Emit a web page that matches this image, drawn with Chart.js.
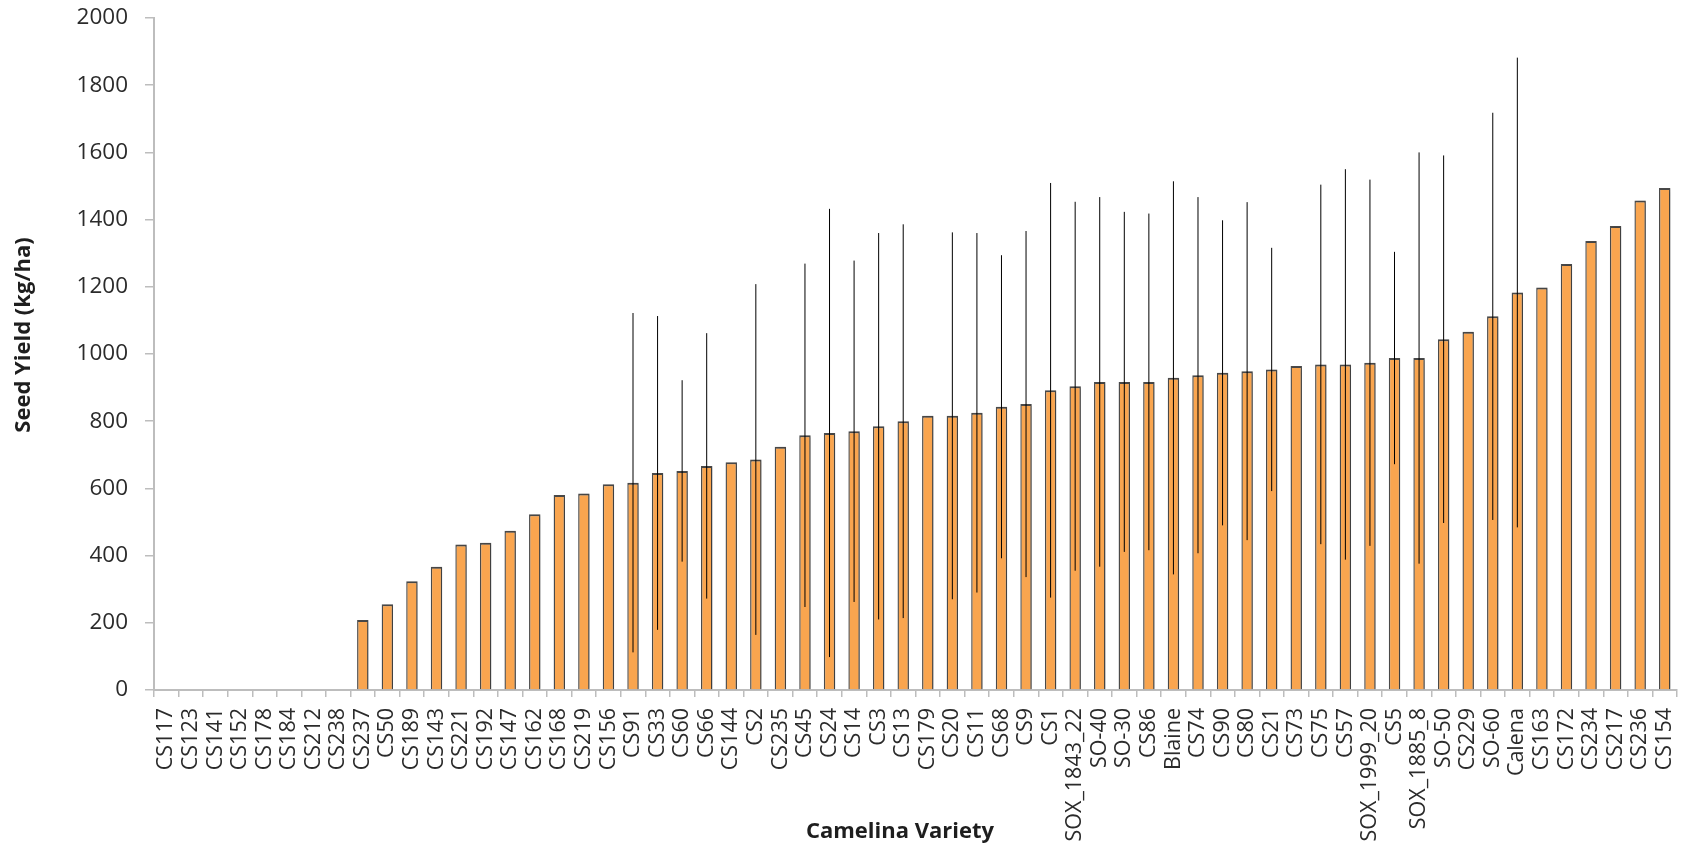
<!DOCTYPE html>
<html>
<head>
<meta charset="utf-8">
<title>Camelina seed yield by variety</title>
<script src="https://cdn.jsdelivr.net/npm/chart.js@4.4.1/dist/chart.umd.min.js"></script>
<style>
  html, body { margin: 0; padding: 0; background: #ffffff; }
  canvas { display: block; }
</style>
</head>
<body>
<canvas id="yieldChart" width="1682" height="848"></canvas>
<script>
// Camelina varieties, ordered by mean seed yield
const varieties = [
  'CS117', 'CS123', 'CS141', 'CS152', 'CS178', 'CS184', 'CS212', 'CS238',
  'CS237', 'CS50', 'CS189', 'CS143', 'CS221', 'CS192', 'CS147', 'CS162',
  'CS168', 'CS219', 'CS156', 'CS91', 'CS33', 'CS60', 'CS66', 'CS144',
  'CS2', 'CS235', 'CS45', 'CS24', 'CS14', 'CS3', 'CS13', 'CS179',
  'CS20', 'CS11', 'CS68', 'CS9', 'CS1', 'SOX_1843_22', 'SO-40', 'SO-30',
  'CS86', 'Blaine', 'CS74', 'CS90', 'CS80', 'CS21', 'CS73', 'CS75',
  'CS57', 'SOX_1999_20', 'CS5', 'SOX_1885_8', 'SO-50', 'CS229', 'SO-60', 'Calena',
  'CS163', 'CS172', 'CS234', 'CS217', 'CS236', 'CS154'
];

// Mean seed yield (kg/ha)
const seedYield = [
  0, 0, 0, 0, 0, 0, 0, 0,
  208, 255, 324, 367, 433, 438, 474, 523,
  580, 585, 612, 617, 646, 652, 667, 678,
  686, 724, 758, 765, 770, 785, 800, 816,
  816, 825, 843, 851, 892, 904, 917, 917,
  917, 929, 937, 944, 949, 954, 964, 969,
  969, 974, 988, 988, 1044, 1066, 1112, 1183,
  1198, 1268, 1336, 1381, 1457, 1494
];

// Error margin (+/- kg/ha); null where the variety has no error bar
const yieldError = [
  null, null, null, null, null, null, null, null,
  null, null, null, null, null, null, null, null,
  null, null, null, 505, 467, 270, 395, null,
  522, null, 511, 667, 508, 575, 586, null,
  546, 535, 451, 515, 617, 549, 550, 506,
  501, 585, 530, 454, 503, 362, null, 535,
  581, 545, 316, 612, 547, null, 606, 699,
  null, null, null, null, null, null
];

// Value axis tick labels
const yTicks = [0, 200, 400, 600, 800, 1000, 1200, 1400, 1600, 1800, 2000];

const AXIS_GREY = '#bdbdbd';
const LABEL_FONT = { family: '"Open Sans", "DejaVu Sans", sans-serif', size: 21.5 };

// Soft drop shadow under the bars, then the error bars on top of them
const barDecorations = {
  id: 'barDecorations',
  beforeDatasetsDraw(chart) {
    const ctx = chart.ctx;
    ctx.save();
    ctx.shadowColor = 'rgba(0, 0, 0, 0.28)';
    ctx.shadowBlur = 3;
    ctx.shadowOffsetX = 1.5;
    ctx.shadowOffsetY = 0.5;
  },
  afterDatasetsDraw(chart) {
    const ctx = chart.ctx;
    ctx.restore();
    const meta = chart.getDatasetMeta(0);
    const yScale = chart.scales.y;
    ctx.save();
    ctx.strokeStyle = '#000000';
    ctx.lineWidth = 1;
    meta.data.forEach((bar, i) => {
      const err = yieldError[i];
      if (err === null || err === undefined) return;
      const v = seedYield[i];
      ctx.beginPath();
      ctx.moveTo(bar.x, yScale.getPixelForValue(v + err));
      ctx.lineTo(bar.x, yScale.getPixelForValue(Math.max(v - err, 0)));
      ctx.stroke();
    });
    ctx.restore();
  }
};

// Axis titles
const axisTitles = {
  id: 'axisTitles',
  afterDraw(chart) {
    const ctx = chart.ctx;
    ctx.save();
    ctx.fillStyle = '#1e1e1e';
    ctx.font = 'bold 22px "Open Sans", "DejaVu Sans", sans-serif';
    ctx.textAlign = 'center';
    ctx.textBaseline = 'middle';
    ctx.save();
    ctx.translate(24, 335);
    ctx.rotate(-Math.PI / 2);
    ctx.fillText('Seed Yield (kg/ha)', 0, 0);
    ctx.restore();
    ctx.fillText('Camelina Variety', 900, 832);
    ctx.restore();
  }
};

new Chart(document.getElementById('yieldChart'), {
  type: 'bar',
  data: {
    labels: varieties,
    datasets: [{
      data: seedYield,
      backgroundColor: '#F9A54F',
      borderColor: 'rgba(45, 45, 45, 0.85)',
      borderWidth: (c) => (c.raw > 0 ? { top: 2, left: 1.4, right: 1.4, bottom: 0 } : 0),
      borderSkipped: 'bottom',
      categoryPercentage: 1,
      barPercentage: 0.465
    }]
  },
  options: {
    responsive: false,
    animation: false,
    devicePixelRatio: 1,
    layout: { padding: { top: 18, right: 5, bottom: 0, left: 0 } },
    plugins: {
      legend: { display: false },
      tooltip: { enabled: false },
      title: { display: false }
    },
    scales: {
      x: {
        grid: {
          offset: true,
          drawOnChartArea: false,
          drawTicks: true,
          tickLength: 7,
          color: AXIS_GREY,
          lineWidth: 1.5
        },
        border: { display: true, color: AXIS_GREY, width: 2 },
        ticks: {
          autoSkip: false,
          maxRotation: 90,
          minRotation: 90,
          padding: 11,
          color: '#2b2b2b',
          font: LABEL_FONT
        },
        afterFit(scale) {
          scale.height = 158;
          scale.paddingLeft = 0;
          scale.paddingRight = 0;
        }
      },
      y: {
        min: 0,
        max: 2000,
        grid: {
          drawOnChartArea: false,
          drawTicks: true,
          tickLength: 9,
          color: AXIS_GREY,
          lineWidth: 1.5
        },
        border: { display: true, color: AXIS_GREY, width: 2 },
        ticks: {
          padding: 17,
          color: '#2b2b2b',
          font: { family: LABEL_FONT.family, size: 22.5 },
          callback: (value) => String(value)
        },
        afterBuildTicks(scale) {
          scale.ticks = yTicks.map((v) => ({ value: v }));
        },
        afterFit(scale) {
          scale.width = 154;
          scale.paddingTop = 0;
          scale.paddingBottom = 0;
        }
      }
    }
  },
  plugins: [barDecorations, axisTitles]
});
</script>
</body>
</html>
